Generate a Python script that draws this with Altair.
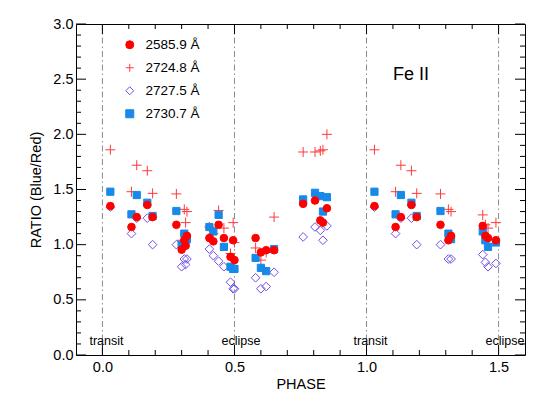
import altair as alt
import pandas as pd

# ---------------- data ----------------
phase = [0.03, 0.11, 0.13, 0.17, 0.19, 0.28, 0.30, 0.31, 0.315, 0.32,
         0.405, 0.42, 0.44, 0.46, 0.485, 0.495, 0.50,
         0.58, 0.60, 0.62, 0.65,
         0.76, 0.805, 0.825, 0.835, 0.85,
         1.03, 1.11, 1.13, 1.17, 1.19, 1.28, 1.31, 1.32,
         1.44, 1.45, 1.46, 1.49]
r_2585 = [1.35, 1.16, 1.25, 1.36, 1.25, 1.18, 0.955, 1.04, 0.99, 1.08,
          1.06, 1.03, 1.18, 1.06, 0.89, 1.04, 0.86,
          1.06, 0.93, 0.95, 0.95,
          1.37, 1.40, 1.22, 1.20, 1.33,
          1.35, 1.16, 1.25, 1.36, 1.25, 1.18, 1.04, 1.08,
          1.17, 1.08, 1.06, 1.04]
r_2724 = [1.86, 1.48, 1.72, 1.67, 1.465, 1.46, 1.04, 1.32, 1.20, 1.30,
          1.16, 1.10, 1.31, 1.15, 0.92, 1.20, 1.02,
          0.97, 0.86, 0.93, 1.25,
          1.84, 1.84, 1.85, 1.86, 2.00,
          1.86, 1.48, 1.72, 1.67, 1.465, 1.46, 1.32, 1.30,
          1.27, 1.18, 1.15, 1.20]
r_2727 = [1.34, 1.10, 1.24, 1.24, 1.00, 1.00, 0.80, 0.87, 0.82, 0.87,
          0.96, 0.90, 0.85, 0.80, 0.66, 0.60, 0.60,
          0.70, 0.60, 0.62, 0.75,
          1.07, 1.16, 1.13, 1.04, 1.17,
          1.34, 1.10, 1.24, 1.24, 1.00, 1.00, 0.87, 0.87,
          0.91, 0.84, 0.80, 0.83]
r_2730 = [1.48, 1.275, 1.45, 1.38, 1.26, 1.305, 1.00, 1.10, 1.04, 1.05,
          1.16, 1.12, 1.27, 0.98, 0.80, 0.78, 0.78,
          0.88, 0.79, 0.76, 0.96,
          1.41, 1.47, 1.44, 1.30, 1.43,
          1.48, 1.275, 1.45, 1.38, 1.26, 1.305, 1.10, 1.05,
          1.12, 1.04, 0.98, 1.02]

series_names = ["2585.9 Å", "2724.8 Å", "2727.5 Å", "2730.7 Å"]
series_values = [r_2585, r_2724, r_2727, r_2730]

marker_phase = [0.0, 0.5, 1.0, 1.5]
marker_label = ["transit", "eclipse", "transit", "eclipse"]

x_major = [0.0, 0.5, 1.0, 1.5]
x_minor = [0.1, 0.2, 0.3, 0.4, 0.6, 0.7, 0.8, 0.9, 1.1, 1.2, 1.3, 1.4]
y_major = [0.0, 0.5, 1.0, 1.5, 2.0, 2.5, 3.0]
y_minor = [0.1, 0.2, 0.3, 0.4, 0.6, 0.7, 0.8, 0.9, 1.1, 1.2, 1.3, 1.4,
           1.6, 1.7, 1.8, 1.9, 2.1, 2.2, 2.3, 2.4, 2.6, 2.7, 2.8, 2.9]

title_text = ["Fe II"]
title_phase = [1.168]
title_ratio = [2.54]

# ---------------- build tables ----------------
rows = []
for name, vals in zip(series_names, series_values):
    for p, v in zip(phase, vals):
        rows.append({"phase": p, "ratio": v, "line": name})
df = pd.DataFrame(rows)

W, H = 449, 331
FONT = "Liberation Sans"
xscale = alt.Scale(domain=[-0.1, 1.6], nice=False, zero=False)
yscale = alt.Scale(domain=[0, 3], nice=False, zero=False)

plus_path = "M-1,0L1,0M0,-1L0,1"
legend = alt.Legend(
    title=None, orient="none", legendX=47, legendY=14, padding=0,
    labelFont=FONT, labelFontSize=13.5, labelColor="black",
    rowPadding=8, labelOffset=9, symbolStrokeWidth=1, symbolSize=64,
)
shape_enc = alt.Shape("line:N", scale=alt.Scale(domain=series_names,
                      range=["circle", plus_path, "diamond", "square"]), legend=legend)
fill_enc = alt.Fill("line:N", scale=alt.Scale(domain=series_names,
                    range=["#ff0000", "transparent", "transparent", "#1789e8"]), legend=legend)
stroke_enc = alt.Stroke("line:N", scale=alt.Scale(domain=series_names,
                        range=["#ff0000", "#ff3a3a", "#7350e8", "#1789e8"]), legend=legend)

x_enc = alt.X("phase:Q", scale=xscale,
              axis=alt.Axis(values=x_major, format=".1f", title="PHASE",
                            labelPadding=5, titlePadding=4))
y_enc = alt.Y("ratio:Q", scale=yscale,
              axis=alt.Axis(values=y_major, format=".1f", title="RATIO (Blue/Red)",
                            labelPadding=3, titlePadding=9))

sizes = {"2585.9 Å": 58, "2724.8 Å": 100, "2727.5 Å": 75, "2730.7 Å": 52}
layer_order = ["2724.8 Å", "2727.5 Å", "2730.7 Å", "2585.9 Å"]
point_layers = []
for name in layer_order:
    point_layers.append(
        alt.Chart(df).transform_filter(alt.datum.line == name)
        .mark_point(strokeWidth=1, opacity=1, size=sizes[name])
        .encode(x=x_enc, y=y_enc, shape=shape_enc, fill=fill_enc, stroke=stroke_enc)
    )

mk = pd.DataFrame({"phase": marker_phase, "label": marker_label})
vlines = alt.Chart(mk).mark_rule(color="#8a8a8a", strokeWidth=1,
                                 strokeDash=[6, 3, 1.5, 3]).encode(
    x=alt.X("phase:Q", scale=xscale))
vtext = alt.Chart(mk).mark_text(align="left", baseline="middle", dx=-13,
                                font=FONT, fontSize=12.5, color="black").encode(
    x=alt.X("phase:Q", scale=xscale),
    y=alt.value(H - 14),
    text="label:N")

ttl = pd.DataFrame({"phase": title_phase, "ratio": title_ratio, "t": title_text})
fe = alt.Chart(ttl).mark_text(font=FONT, fontSize=18, color="black",
                              baseline="middle", align="center").encode(
    x=alt.X("phase:Q", scale=xscale), y=alt.Y("ratio:Q", scale=yscale), text="t:N")


def xticks(vals, length):
    d = pd.DataFrame({"v": vals})
    b = alt.Chart(d).mark_rule(color="black", strokeWidth=1).encode(
        x=alt.X("v:Q", scale=xscale), y=alt.value(H), y2=alt.value(H - length))
    t = alt.Chart(d).mark_rule(color="black", strokeWidth=1).encode(
        x=alt.X("v:Q", scale=xscale), y=alt.value(0), y2=alt.value(length))
    return [b, t]


def yticks(vals, length):
    d = pd.DataFrame({"v": vals})
    l = alt.Chart(d).mark_rule(color="black", strokeWidth=1).encode(
        y=alt.Y("v:Q", scale=yscale), x=alt.value(0), x2=alt.value(length))
    r = alt.Chart(d).mark_rule(color="black", strokeWidth=1).encode(
        y=alt.Y("v:Q", scale=yscale), x=alt.value(W), x2=alt.value(W - length))
    return [l, r]


ticks = xticks(x_major, 10) + xticks(x_minor, 5) + yticks(y_major, 10) + yticks(y_minor, 5)

chart = alt.layer(vlines, vtext, *ticks, *point_layers, fe).properties(
    width=W, height=H,
    autosize=alt.AutoSizeParams(type="none"),
    padding={"left": 68, "top": 16, "right": 10, "bottom": 40},
).configure_view(stroke="black", strokeWidth=1).configure_axis(
    grid=False, ticks=False, domain=False,
    labelFont=FONT, labelFontSize=14.5, labelColor="black",
    titleFont=FONT, titleFontSize=14.5, titleColor="black", titleFontWeight="normal",
)

chart.save("out.html", embed_options={"renderer": "svg", "actions": False})
